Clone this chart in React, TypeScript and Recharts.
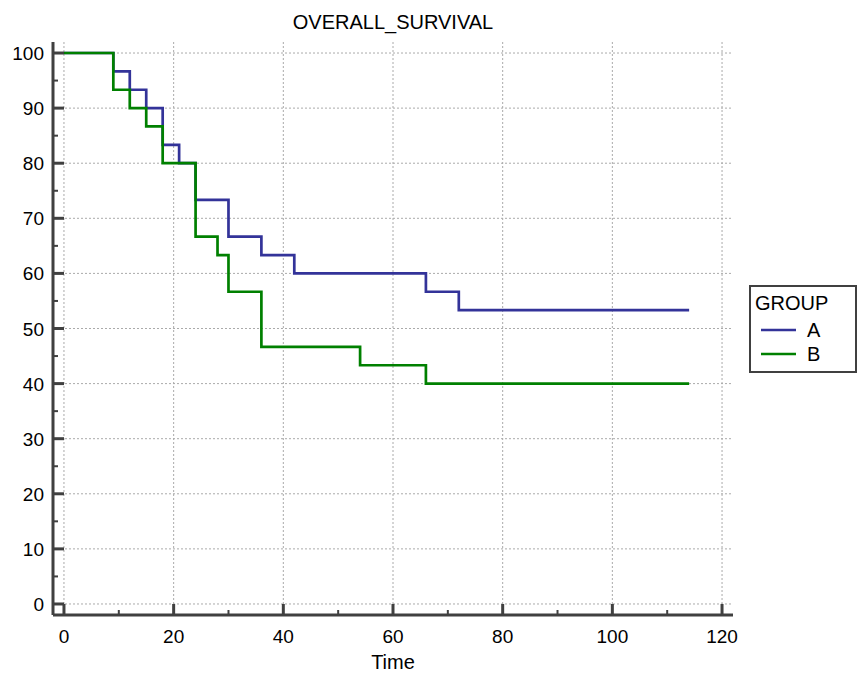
import React from 'react';
import { CartesianGrid, Legend, Line, LineChart, XAxis, YAxis } from 'recharts';

// Kaplan-Meier steps
const timesA = [0, 9, 12, 15, 18, 21, 24, 30, 36, 42, 66, 72, 114];
const survA = [100, 96.67, 93.33, 90, 83.33, 80, 73.33, 66.67, 63.33, 60, 56.67, 53.33, 53.33];
const timesB = [0, 9, 12, 15, 18, 24, 28, 30, 36, 54, 66, 114];
const survB = [100, 93.33, 90, 86.67, 80, 66.67, 63.33, 56.67, 46.67, 43.33, 40, 40];

const xTicks = [0, 10, 20, 30, 40, 50, 60, 70, 80, 90, 100, 110, 120];
const xMajor = [0, 20, 40, 60, 80, 100, 120];
const yTicks = [0, 5, 10, 15, 20, 25, 30, 35, 40, 45, 50, 55, 60, 65, 70, 75, 80, 85, 90, 95, 100];
const yMajor = [0, 10, 20, 30, 40, 50, 60, 70, 80, 90, 100];

const dataA = timesA.map((t, i) => ({ time: t, surv: survA[i] }));
const dataB = timesB.map((t, i) => ({ time: t, surv: survB[i] }));

const AXIS = '#404040';
const FONT = '"Liberation Sans", Arial, sans-serif';

const XTick = (props: any) => {
  const { x, y, payload } = props;
  const v = payload.value;
  const major = xMajor.includes(v);
  return (
    <g>
      <line x1={x} x2={x} y1={y} y2={y - (major ? 11 : 5)} stroke={AXIS} strokeWidth={major ? 3 : 2} />
      {major && (
        <text x={x} y={y + 28} textAnchor="middle" fontSize={19} fill="#000">
          {v}
        </text>
      )}
    </g>
  );
};

const YTick = (props: any) => {
  const { x, y, payload } = props;
  const v = payload.value;
  const major = yMajor.includes(v);
  return (
    <g>
      <line x1={x} x2={x + (major ? 11 : 5)} y1={y} y2={y} stroke={AXIS} strokeWidth={major ? 3 : 2} />
      {major && (
        <text x={x - 9} y={y + 7} textAnchor="end" fontSize={19} fill="#000">
          {v}
        </text>
      )}
    </g>
  );
};

const LegendBox = ({ payload }: any) => (
  <svg width={108} height={88} style={{ display: 'block', fontFamily: FONT }}>
    <rect x={1} y={1} width={106} height={86} fill="#fff" stroke={AXIS} strokeWidth={2} />
    <text x={6} y={25} fontSize={20} fill="#000">GROUP</text>
    {(payload || []).map((p: any, i: number) => (
      <g key={p.value}>
        <line x1={12} x2={47} y1={45 + i * 24} y2={45 + i * 24} stroke={p.color} strokeWidth={2.7} />
        <text x={58} y={52 + i * 24} fontSize={20} fill="#000">{p.value}</text>
      </g>
    ))}
  </svg>
);

export default function App() {
  return (
    <div style={{ position: 'absolute', left: 0, top: 0, width: 857, height: 673, fontFamily: FONT, background: '#fff' }}>
      <div
        style={{
          position: 'absolute', left: 53, top: 12, width: 680, textAlign: 'center',
          fontSize: 20, lineHeight: '20px', color: '#000',
        }}
      >
        OVERALL_SURVIVAL
      </div>
      <LineChart width={857} height={673} margin={{ top: 42, right: 124, bottom: 0, left: 0 }}>
        <CartesianGrid
          stroke="#aaa"
          strokeDasharray="2 2"
          horizontalValues={yMajor}
          verticalValues={xMajor}
        />
        <XAxis
          type="number"
          dataKey="time"
          domain={[-2, 122]}
          ticks={xTicks}
          interval={0}
          height={58}
          tickLine={false}
          tickSize={0}
          tickMargin={0}
          tick={XTick}
          axisLine={{ stroke: AXIS, strokeWidth: 3 }}
          label={{ value: 'Time', position: 'insideBottom', offset: 4, fontSize: 20, fill: '#000' }}
        />
        <YAxis
          type="number"
          domain={[-2, 102]}
          ticks={yTicks}
          interval={0}
          width={53}
          tickLine={false}
          tickSize={0}
          tickMargin={0}
          tick={YTick}
          axisLine={{ stroke: AXIS, strokeWidth: 3 }}
        />
        <Legend
          layout="horizontal"
          align="center"
          verticalAlign="middle"
          width={108}
          height={88}
          wrapperStyle={{ left: 749, top: 285, width: 108, height: 88 }}
          content={LegendBox}
        />
        <Line
          data={dataA}
          dataKey="surv"
          name="A"
          type="stepAfter"
          stroke="#333399"
          strokeWidth={2.7}
          dot={false}
          activeDot={false}
          isAnimationActive={false}
        />
        <Line
          data={dataB}
          dataKey="surv"
          name="B"
          type="stepAfter"
          stroke="#008000"
          strokeWidth={2.7}
          dot={false}
          activeDot={false}
          isAnimationActive={false}
        />
      </LineChart>
    </div>
  );
}
